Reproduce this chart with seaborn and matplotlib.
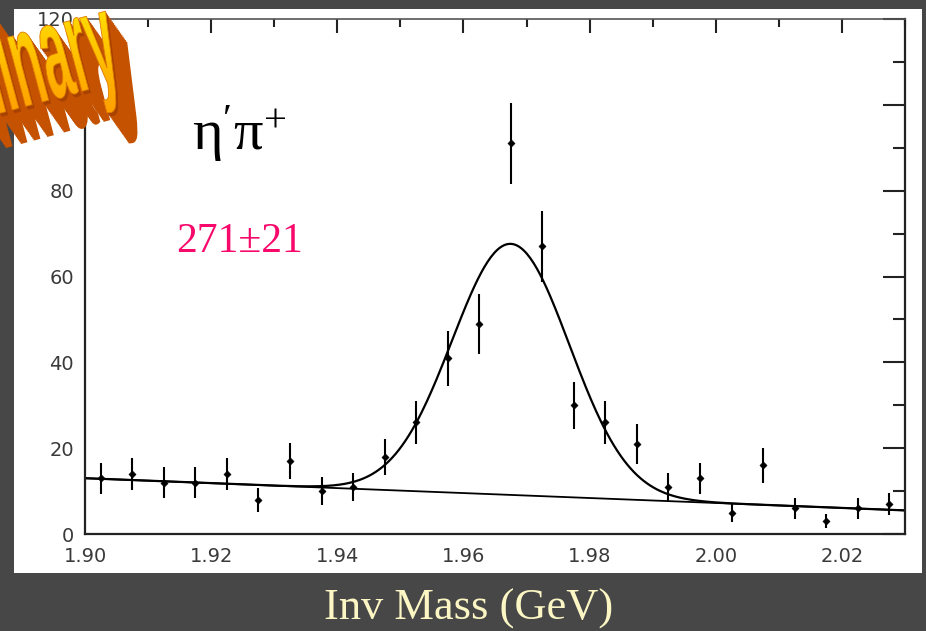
import numpy as np
import pandas as pd
import matplotlib
matplotlib.use('Agg')
import matplotlib.pyplot as plt
import seaborn as sns
from matplotlib.patches import Rectangle, PathPatch
from matplotlib.textpath import TextPath
from matplotlib.font_manager import FontProperties
from matplotlib.transforms import Affine2D
from matplotlib.colors import LinearSegmentedColormap

# ---------------- data ----------------
mass = [1.9025, 1.9075, 1.9125, 1.9175, 1.9225, 1.9275, 1.9325, 1.9375, 1.9425,
        1.9475, 1.9525, 1.9575, 1.9625, 1.9675, 1.9725, 1.9775, 1.9825, 1.9875,
        1.9925, 1.9975, 2.0025, 2.0075, 2.0125, 2.0175, 2.0225, 2.0275]
counts = [13, 14, 12, 12, 14, 8, 17, 10, 11, 18, 26, 41, 49, 91, 67, 30, 26, 21,
          11, 13, 5, 16, 6, 3, 6, 7]
errors = [3.6, 3.7, 3.5, 3.5, 3.7, 2.8, 4.1, 3.2, 3.3, 4.2, 5.1, 6.4, 7.0, 9.5,
          8.2, 5.5, 5.1, 4.6, 3.3, 3.6, 2.2, 4.0, 2.4, 1.7, 2.4, 2.6]

# fit parameters (gaussian + linear background)
peak_mean = 1.9675
peak_sigma = 0.0093
peak_amp = 58.5
bg_at_190 = 13.0
bg_slope = -57.7

x_ticks = [1.90, 1.92, 1.94, 1.96, 1.98, 2.00, 2.02]
x_ticklabels = ['1.90', '1.92', '1.94', '1.96', '1.98', '2.00', '2.02']
y_ticks = [0, 20, 40, 60, 80, 100, 120]
y_ticklabels = ['0', '20', '40', '60', '80', '', '120']

df = pd.DataFrame({'mass': mass, 'counts': counts, 'err': errors})
x_fit = np.linspace(1.90, 2.03, 500)
bg = bg_at_190 + bg_slope * (x_fit - 1.90)
total = bg + peak_amp * np.exp(-0.5 * ((x_fit - peak_mean) / peak_sigma) ** 2)
fit_df = pd.DataFrame({'mass': x_fit, 'bg': bg, 'total': total})

# ---------------- style ----------------
sns.set_style('white')
plt.rcParams['font.family'] = ['DejaVu Sans']
plt.rcParams['mathtext.fontset'] = 'custom'
plt.rcParams['mathtext.rm'] = 'Liberation Serif'
plt.rcParams['mathtext.it'] = 'Liberation Serif:italic'

W, H = 926, 631
fig = plt.figure(figsize=(W / 100, H / 100), dpi=100, facecolor='#474747')
px = Affine2D().scale(1 / W, 1 / H) + fig.transFigure

# white panel behind the plot
fig.patches.append(Rectangle((14, H - 573), 908, 564, transform=px,
                             facecolor='white', edgecolor='none', zorder=-10))

ax = fig.add_axes([85 / W, (H - 534) / H, 820 / W, 515 / H])
ax.set_facecolor('white')

# fit curves
sns.lineplot(data=fit_df, x='mass', y='bg', ax=ax, color='black', lw=1.3)
sns.lineplot(data=fit_df, x='mass', y='total', ax=ax, color='black', lw=1.6)

# data points with error bars
ax.errorbar(df['mass'], df['counts'], yerr=df['err'], fmt='none',
            ecolor='black', elinewidth=1.5, capsize=0, zorder=3)
sns.scatterplot(data=df, x='mass', y='counts', ax=ax, marker='D', s=14,
                color='black', edgecolor='black', zorder=4)

ax.set_xlim(1.90, 2.03)
ax.set_ylim(0, 120)
ax.set_xticks(x_ticks)
ax.set_xticklabels(x_ticklabels)
ax.set_xticks(np.arange(1.90, 2.031, 0.01), minor=True)
ax.set_yticks(y_ticks)
ax.set_yticklabels(y_ticklabels)
ax.set_yticks(np.arange(0, 121, 10), minor=True)
ax.tick_params(which='both', direction='in', top=True, right=True,
               colors='#222222', labelcolor='#3a3a3a', labelsize=14)
ax.tick_params(axis='x', which='major', length=10, width=1.5, pad=9)
ax.tick_params(axis='x', which='minor', length=6, width=1.5)
ax.tick_params(axis='y', which='major', length=16, width=1.5, pad=8)
ax.tick_params(axis='y', which='minor', length=9, width=1.5)
for side in ['left', 'right', 'bottom']:
    ax.spines[side].set_linewidth(1.6)
    ax.spines[side].set_color('#222222')
ax.spines['top'].set_linewidth(1.2)
ax.spines['top'].set_color('#555555')
ax.set_xlabel('')
ax.set_ylabel('')

# labels inside the plot
ax.text(192, H - 150, r'$\mathrm{η}^{\prime}\mathrm{π}^{+}$', transform=px,
        fontsize=42, color='black', ha='left', va='baseline')
ax.text(176, H - 252, '271±21', transform=px, family='Liberation Serif',
        fontsize=30, color='#f7086a', ha='left', va='baseline')

# x axis title on the dark band
fig.text(469 / W, (H - 620) / H, 'Inv Mass (GeV)', family='Liberation Serif',
         fontsize=32, color='#fbf6c3', ha='center', va='baseline')

# "Preliminary" stamp, mostly cut off at the left edge
tp = TextPath((0, 0), 'Preliminary', size=100,
              prop=FontProperties(family='Liberation Sans', weight='bold'))
xmax = tp.get_extents().xmax
base = Affine2D().translate(-xmax, 0).scale(0.5, 1.35).rotate_deg(15)
for k in range(18, 0, -1):
    shadow = base + Affine2D().translate(124 + 1.2 * k, H - 80 - 1.7 * k) + px
    shade = '#c45200' if k > 2 else '#a84200'
    fig.patches.append(PathPatch(tp, transform=shadow, facecolor=shade,
                                 edgecolor='none', zorder=10))
face = PathPatch(tp, transform=base + Affine2D().translate(124, H - 80) + px,
                 facecolor='none', edgecolor='#e07a00', lw=0.6, zorder=12)
fig.patches.append(face)

grad_ax = fig.add_axes([0, 0, 1, 1], zorder=11)
grad_ax.set_xlim(0, W)
grad_ax.set_ylim(0, H)
grad_ax.axis('off')
grad_ax.patch.set_alpha(0)
wordart = LinearSegmentedColormap.from_list('wordart', ['#ff8a00', '#ffb000', '#ffe400'])
grad = np.linspace(0, 1, 256).reshape(-1, 1)
im = grad_ax.imshow(grad, extent=[0, 200, H - 160, H], origin='lower',
                    cmap=wordart, aspect='auto')
im.set_clip_path(face)

fig.savefig('out.png', dpi=100, facecolor=fig.get_facecolor())
